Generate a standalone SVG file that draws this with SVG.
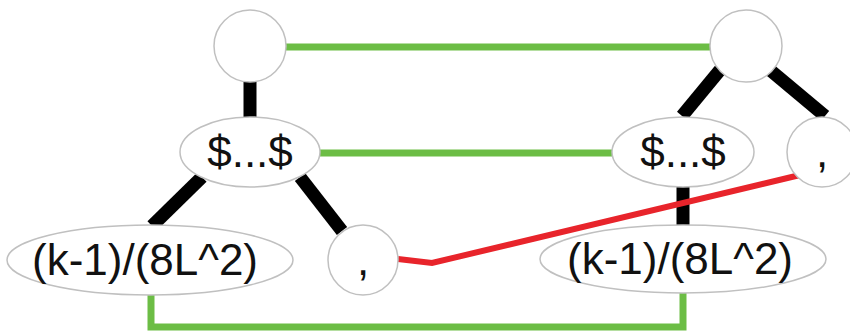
<svg xmlns="http://www.w3.org/2000/svg" width="850" height="333" viewBox="0 0 850 333">
<style>
.n{fill:#fff;stroke:#c0c0c0;stroke-width:1.5}
.t{font-family:"Liberation Sans",Arial,sans-serif;font-size:44px;fill:#111;text-anchor:middle}
.e{stroke:#000;stroke-width:13;fill:none}
.g{stroke:#6cbd45;stroke-width:7;fill:none}
.r{stroke:#e8242b;stroke-width:6;fill:none}
</style>
<rect width="850" height="333" fill="#fff"/>
<g id="connectors">
<line class="e" x1="250" y1="80" x2="250" y2="119"/>
<line class="e" x1="720" y1="70" x2="682" y2="116"/>
<line class="e" x1="770" y1="70" x2="825" y2="116"/>
<line class="e" x1="202" y1="177" x2="152" y2="226"/>
<line class="e" x1="300" y1="177" x2="342" y2="231"/>
<line class="e" x1="683" y1="186" x2="683" y2="226"/>
<line class="g" x1="286" y1="47" x2="710" y2="47"/>
<line class="g" x1="320" y1="153" x2="612" y2="153"/>
<polyline class="g" points="151,295 151,327 683,327 683,293"/>
<polyline class="r" points="398,259 432,263 800,175"/>
</g>
<g id="n1"><circle class="n" cx="250" cy="46" r="36"/></g>
<g id="n2"><circle class="n" cx="746" cy="46" r="36"/></g>
<g id="n3"><ellipse class="n" cx="250" cy="152" rx="70" ry="35"/><text class="t" x="250" y="167">$...$</text></g>
<g id="n4"><ellipse class="n" cx="683" cy="152" rx="71" ry="35"/><text class="t" x="683" y="167">$...$</text></g>
<g id="n5"><circle class="n" cx="822" cy="152" r="35"/><text class="t" x="822" y="167">,</text></g>
<g id="n6"><ellipse class="n" cx="150" cy="260" rx="143" ry="35"/><text class="t" x="145" y="275">(k-1)/(8L^2)</text></g>
<g id="n7"><circle class="n" cx="363" cy="260" r="35"/><text class="t" x="363" y="275">,</text></g>
<g id="n8"><ellipse class="n" cx="683" cy="259" rx="143" ry="34"/><text class="t" x="680" y="274">(k-1)/(8L^2)</text></g>
</svg>
